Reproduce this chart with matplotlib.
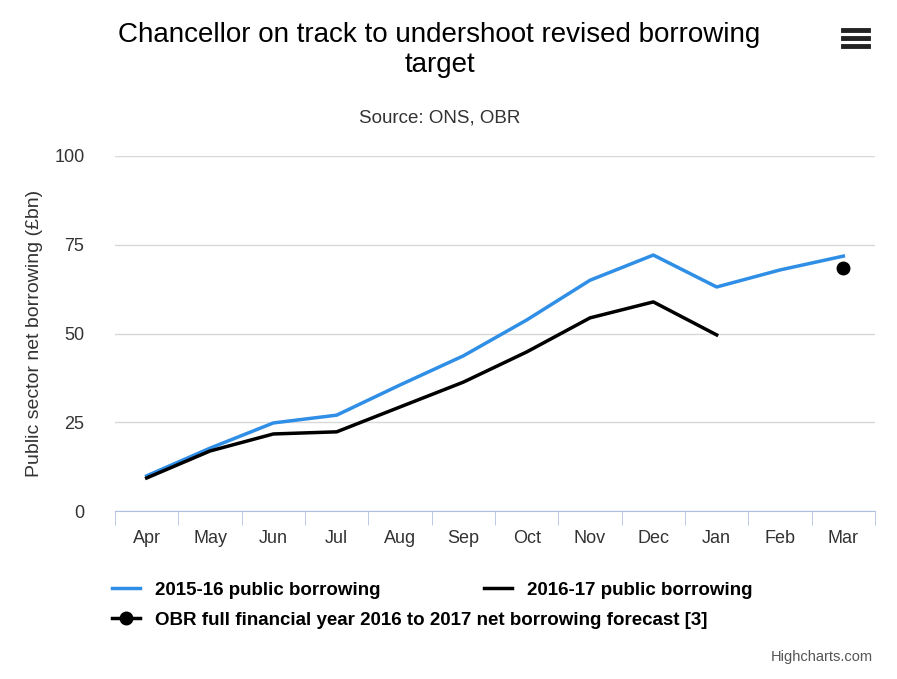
import matplotlib
matplotlib.use("Agg")
import matplotlib.pyplot as plt
from matplotlib.lines import Line2D
import numpy as np

plt.rcParams['font.family'] = ['Liberation Sans', 'DejaVu Sans']

months = ["Apr","May","Jun","Jul","Aug","Sep","Oct","Nov","Dec","Jan","Feb","Mar"]
b1516 = [9.9,17.7,24.8,27.0,35.5,43.7,53.8,65.0,72.1,63.1,67.9,71.8]
b1617 = [9.3,16.9,21.7,22.3,29.3,36.3,44.8,54.4,58.9,49.6]
obr_month = "Mar"
obr_value = 68.5

fig = plt.figure(figsize=(8.97,6.79), dpi=100)
ax = fig.add_axes([115/897, 1-511/679, 760/897, 355/679])
x = np.arange(len(months))
ax.plot(x, b1516, color="#2f8ee5", lw=2.5, label="2015-16 public borrowing")
ax.plot(x[:len(b1617)], b1617, color="black", lw=2.5, label="2016-17 public borrowing")
ax.plot([months.index(obr_month)], [obr_value], 'o', color="black", ms=9, ls='none')
ax.set_xlim(-0.5, len(months)-0.5)
ax.set_ylim(0, 100)
ax.set_yticks([0,25,50,75,100])
ax.yaxis.grid(True, color="#d8d8d8", lw=1)
ax.set_axisbelow(True)
for s in ["top","right","left"]:
    ax.spines[s].set_visible(False)
ax.spines["bottom"].set_color("#b0c0e0")
ax.set_xticks(x)
ax.set_xticklabels(months)
ax.set_xticks(np.arange(-0.5, len(months)), minor=True)
ax.tick_params(axis="x", which="major", length=0, pad=14, labelsize=13, colors="#333333")
ax.tick_params(axis="x", which="minor", length=10, color="#b0c0e0")
ax.tick_params(axis="y", length=0, labelsize=13, colors="#333333", pad=22)
ax.set_ylabel("Public sector net borrowing (£bn)", fontsize=14, color="#333333", labelpad=8)
fig.text(0.49, 1-50/679, "Chancellor on track to undershoot revised borrowing\ntarget",
         ha="center", va="center", fontsize=20, linespacing=1.15)
fig.text(0.49, 1-118/679, "Source: ONS, OBR", ha="center", va="center", fontsize=13.5, color="#333333")
h, l = ax.get_legend_handles_labels()
fig.legend(h[:2], l[:2], loc="center left", bbox_to_anchor=(95/897, 1-590/679), ncol=2,
           frameon=False, prop={"weight":"bold","size":13.5}, columnspacing=5.5, handlelength=1.5)
obr_h = Line2D([], [], color="black", lw=2.5, marker="o", ms=9)
fig.legend([obr_h], ["OBR full financial year 2016 to 2017 net borrowing forecast [3]"],
           loc="center left", bbox_to_anchor=(95/897, 1-620/679),
           frameon=False, prop={"weight":"bold","size":13.5}, handlelength=1.5)
fig.text(873/897, 1-657/679, "Highcharts.com", ha="right", va="center", fontsize=10.5, color="#555555")
for yy in [30, 38, 46]:
    fig.add_artist(Line2D([843/897, 868/897], [1-yy/679]*2, color="#222222", lw=3.5))
fig.savefig("out.png", dpi=100)
